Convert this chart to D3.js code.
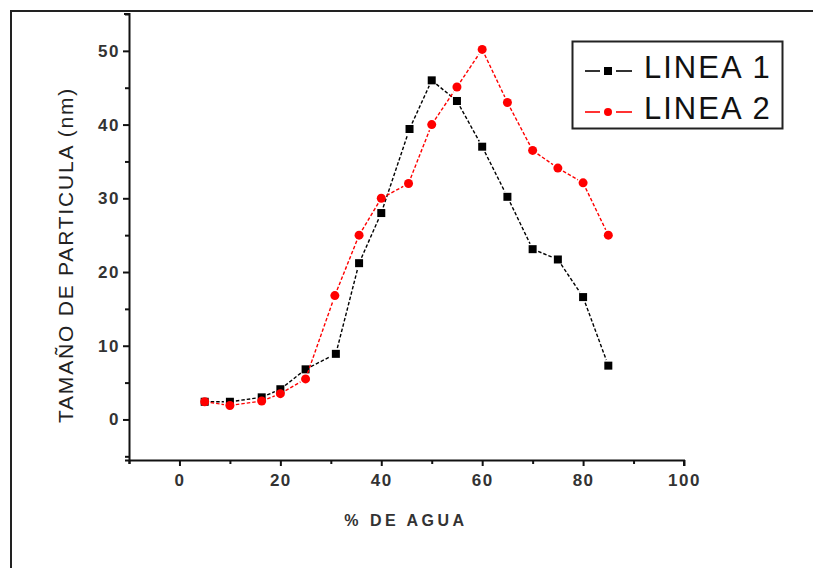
<!DOCTYPE html>
<html><head><meta charset="utf-8">
<script src="https://cdn.jsdelivr.net/npm/d3@7/dist/d3.min.js"></script>
<style>
html,body{margin:0;padding:0;background:#fff;}
svg{display:block;font-family:"Liberation Sans",Arial,sans-serif;}
</style></head>
<body><svg id="c" width="813" height="568"></svg>
<script>
// ---- data ----
const xLinea1 = [5, 10, 16.3, 20, 25, 31, 35.6, 40, 45.6, 50, 55, 60, 65, 70, 75, 80, 85];
const yLinea1 = [2.4, 2.4, 3.0, 4.1, 6.8, 8.9, 21.2, 28.0, 39.4, 46.0, 43.2, 37.0, 30.2, 23.1, 21.7, 16.6, 7.3];
const xLinea2 = [5, 10, 16.3, 20, 25, 30.8, 35.6, 40, 45.4, 50, 55, 60, 65, 70, 75, 80, 85];
const yLinea2 = [2.4, 1.9, 2.5, 3.5, 5.5, 16.8, 25.0, 30.0, 32.0, 40.0, 45.1, 50.2, 43.0, 36.5, 34.1, 32.1, 25.0];
const seriesNames = ["LINEA 1", "LINEA 2"];
const seriesColors = ["#000000", "#ff0000"];
const xTicks = [0, 20, 40, 60, 80, 100];
const xMinorTicks = [-10, 10, 30, 50, 70, 90];
const yTicks = [0, 10, 20, 30, 40, 50];
const yMinorTicks = [-5, 5, 15, 25, 35, 45, 55];
const xTitle = "% DE AGUA";
const yTitle = "TAMAÑO DE PARTICULA (nm)";

const svg = d3.select("#c");
const x = d3.scaleLinear().domain([-10, 100]).range([129, 684]);
const y = d3.scaleLinear().domain([-5.5, 55]).range([460, 14]);
const axisCol = "#111";

// outer frame
svg.append("path").attr("d", "M11,568 V11 H813").attr("fill", "none")
  .attr("stroke", "#222").attr("stroke-width", 2);

// X axis
const gx = svg.append("g").attr("transform", `translate(0,${y(-5.5)})`);
gx.call(d3.axisBottom(x).tickValues(xTicks).tickSize(6).tickSizeOuter(0).tickFormat(d3.format("d")));
gx.append("g").call(d3.axisBottom(x).tickValues(xMinorTicks).tickSize(4).tickFormat(""))
  .select(".domain").remove();
gx.select(".domain").attr("d", `M${x(-10)-4},0.5H${x(100)}V6`);
gx.selectAll("line").attr("stroke", axisCol).attr("stroke-width", 2);
gx.selectAll(".domain").attr("stroke", axisCol).attr("stroke-width", 2);
gx.attr("font-size", 17).attr("font-family", "Liberation Sans, Arial");
gx.selectAll("text").attr("font-size", 17).attr("font-weight", "bold").attr("fill", "#333")
  .attr("letter-spacing", 1.5).attr("dy", "1.0em");

// Y axis
const gy = svg.append("g").attr("transform", `translate(${x(-10)},0)`);
gy.call(d3.axisLeft(y).tickValues(yTicks).tickSize(6).tickSizeOuter(0).tickFormat(d3.format("d")));
gy.append("g").call(d3.axisLeft(y).tickValues(yMinorTicks).tickSize(4).tickFormat(""))
  .select(".domain").remove();
gy.select(".domain").attr("d", `M-5,${y(55)}H0.5V${y(-5.5)+4}`);
gy.selectAll("line").attr("stroke", axisCol).attr("stroke-width", 2);
gy.selectAll(".domain").attr("stroke", axisCol).attr("stroke-width", 2);
gy.attr("font-size", 17).attr("font-family", "Liberation Sans, Arial");
gy.selectAll("text").attr("font-size", 17).attr("font-weight", "bold").attr("fill", "#333")
  .attr("letter-spacing", 1.5).attr("x", -9);

// titles
svg.append("text").attr("x", 406).attr("y", 526).attr("text-anchor", "middle")
  .attr("font-size", 16).attr("font-weight", "bold").attr("letter-spacing", 3.5)
  .attr("fill", "#333").text(xTitle);
svg.append("text").attr("transform", `translate(73,255) rotate(-90)`)
  .attr("text-anchor", "middle").attr("font-size", 21).attr("letter-spacing", 1.8)
  .attr("fill", "#222").text(yTitle);

// series
const series = [
  {xs: xLinea1, ys: yLinea1, color: seriesColors[0], shape: "square"},
  {xs: xLinea2, ys: yLinea2, color: seriesColors[1], shape: "circle"}
];
const gap = 6;
function drawMarker(g, px, py, s) {
  if (s.shape === "square") {
    g.append("rect").attr("x", px - 4).attr("y", py - 4).attr("width", 8).attr("height", 8).attr("fill", s.color);
  } else {
    g.append("circle").attr("cx", px).attr("cy", py).attr("r", 4.5).attr("fill", s.color);
  }
}
series.forEach(s => {
  const g = svg.append("g");
  const pts = s.xs.map((v, i) => [x(v), y(s.ys[i])]);
  for (let i = 0; i < pts.length - 1; i++) {
    const [x1, y1] = pts[i], [x2, y2] = pts[i + 1];
    const dx = x2 - x1, dy = y2 - y1, L = Math.hypot(dx, dy);
    if (L <= 2 * gap) continue;
    const ux = dx / L, uy = dy / L;
    g.append("line").attr("x1", x1 + ux * gap).attr("y1", y1 + uy * gap)
      .attr("x2", x2 - ux * gap).attr("y2", y2 - uy * gap)
      .attr("stroke", s.color).attr("stroke-width", 1.4).attr("stroke-dasharray", "3.5,2");
  }
  pts.forEach(p => drawMarker(g, p[0], p[1], s));
});

// legend
const lg = svg.append("g");
lg.append("rect").attr("x", 572.5).attr("y", 41.5).attr("width", 210).attr("height", 87)
  .attr("fill", "#fff").attr("stroke", "#222").attr("stroke-width", 2);
series.forEach((s, i) => {
  const cy = 71 + i * 41;
  lg.append("line").attr("x1", 585).attr("x2", 600).attr("y1", cy).attr("y2", cy).attr("stroke", s.color).attr("stroke-width", 1.6);
  lg.append("line").attr("x1", 616).attr("x2", 632).attr("y1", cy).attr("y2", cy).attr("stroke", s.color).attr("stroke-width", 1.6);
  if (s.shape === "square") lg.append("rect").attr("x", 604).attr("y", cy - 4).attr("width", 8).attr("height", 8).attr("fill", s.color);
  else lg.append("circle").attr("cx", 608).attr("cy", cy).attr("r", 4).attr("fill", s.color);
  lg.append("text").attr("x", 644).attr("y", cy + 6.5).attr("font-size", 31).attr("letter-spacing", 2)
    .attr("fill", "#111").text(seriesNames[i]);
});
</script></body></html>
